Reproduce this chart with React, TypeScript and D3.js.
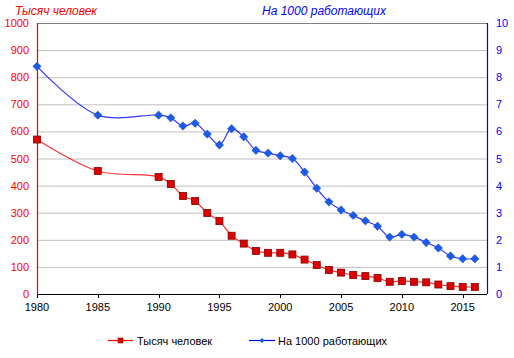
import React from "react";
import * as d3 from "d3";

const years = [1980, 1985, 1990, 1991, 1992, 1993, 1994, 1995, 1996, 1997, 1998, 1999, 2000, 2001, 2002, 2003, 2004, 2005, 2006, 2007, 2008, 2009, 2010, 2011, 2012, 2013, 2014, 2015, 2016];
const thousands = [570, 454, 432, 406, 362, 343, 299, 269, 215, 186, 159, 152, 152, 146, 127, 107, 89, 79, 70, 66, 59, 45, 48, 45, 43, 35, 29, 26, 26];
const perThousand = [8.4, 6.6, 6.6, 6.5, 6.2, 6.3, 5.9, 5.5, 6.1, 5.8, 5.3, 5.2, 5.1, 5.0, 4.5, 3.9, 3.4, 3.1, 2.9, 2.7, 2.5, 2.1, 2.2, 2.1, 1.9, 1.7, 1.4, 1.3, 1.3];
const xTicks = [1980, 1985, 1990, 1995, 2000, 2005, 2010, 2015];
const leftTicks = [0, 100, 200, 300, 400, 500, 600, 700, 800, 900, 1000];
const rightTicks = [0, 1, 2, 3, 4, 5, 6, 7, 8, 9, 10];
const seriesNames = ["Тысяч человек", "На 1000 работающих"];

const FONT = "Arial, 'Liberation Sans', sans-serif";
const RED_LINE = "#ff3333";
const RED_FILL = "#dd0000";
const RED_STROKE = "#880000";
const BLUE_LINE = "#3333ff";
const BLUE_FILL = "#1a5ce6";

export default function App() {
  const W = 514, H = 358;
  const x = d3.scaleLinear().domain([1980, 2017]).range([37, 487]);
  const yL = d3.scaleLinear().domain([0, 1000]).range([294, 23]);
  const yR = d3.scaleLinear().domain([0, 10]).range([294, 23]);

  const redLine = d3.line<number>()
    .x((_, i) => x(years[i]))
    .y((d) => yL(d))
    .curve(d3.curveCatmullRom.alpha(0.5));
  const blueLine = d3.line<number>()
    .x((_, i) => x(years[i]))
    .y((d) => yR(d))
    .curve(d3.curveCatmullRom.alpha(0.5));

  const diamond = (cx: number, cy: number, r: number) =>
    `M${cx},${cy - r}L${cx + r},${cy}L${cx},${cy + r}L${cx - r},${cy}Z`;

  return (
    <svg width={W} height={H} style={{ position: "absolute", left: 0, top: 0, background: "#fff" }} fontFamily={FONT}>
      <rect x={0} y={0} width={W} height={H} fill="#fff" />
      {leftTicks.map((t) => (
        <line key={"g" + t} x1={x(1980)} x2={x(2017)} y1={yL(t) + 0.5} y2={yL(t) + 0.5}
          stroke={t === 1000 ? "#808080" : "#c0c0c0"} strokeWidth={1} />
      ))}
      <line x1={x(1980)} x2={x(2017)} y1={yL(0) + 0.5} y2={yL(0) + 0.5} stroke="#000" strokeWidth={1} />
      <line x1={x(1980) + 0.5} x2={x(1980) + 0.5} y1={yL(1000)} y2={yL(0)} stroke="#ee0000" strokeWidth={1.2} />
      <line x1={x(2017) + 0.5} x2={x(2017) + 0.5} y1={yL(1000)} y2={yL(0)} stroke="#0000dd" strokeWidth={1.2} />
      {xTicks.map((t) => (
        <g key={"x" + t}>
          <line x1={Math.round(x(t)) + 0.5} x2={Math.round(x(t)) + 0.5} y1={yL(0)} y2={yL(0) + 4} stroke="#000" />
          <text x={x(t)} y={311} textAnchor="middle" fontSize={11} fill="#000">{t}</text>
        </g>
      ))}
      {leftTicks.map((t) => (
        <text key={"l" + t} x={29} y={yL(t) + 4} textAnchor="end" fontSize={11} fill="#ff0000">{t}</text>
      ))}
      {rightTicks.map((t) => (
        <text key={"r" + t} x={496} y={yR(t) + 4} textAnchor="start" fontSize={11} fill="#0000ff">{t}</text>
      ))}
      <text x={15} y={15} fontSize={12} fontStyle="italic" fill="#ff0000">{seriesNames[0]}</text>
      <text x={262} y={15} fontSize={12} fontStyle="italic" fill="#0000ff">{seriesNames[1]}</text>
      <path d={redLine(thousands) || ""} fill="none" stroke={RED_LINE} strokeWidth={1.2} />
      <path d={blueLine(perThousand) || ""} fill="none" stroke={BLUE_LINE} strokeWidth={1.2} />
      {thousands.map((v, i) => (
        <rect key={"rm" + i} x={x(years[i]) - 3.5} y={yL(v) - 3.5} width={7} height={7}
          fill={RED_FILL} stroke={RED_STROKE} strokeWidth={0.8} />
      ))}
      {perThousand.map((v, i) => (
        <path key={"bm" + i} d={diamond(x(years[i]), yR(v), 4.2)} fill={BLUE_FILL} stroke="#1a50d0" strokeWidth={0.5} />
      ))}
      <line x1={108} x2={133} y1={340.5} y2={340.5} stroke="#ff0000" strokeWidth={1.2} />
      <rect x={118} y={338} width={5} height={5} fill={RED_FILL} stroke={RED_STROKE} strokeWidth={0.6} />
      <text x={137} y={344.5} fontSize={11} fill="#000">{seriesNames[0]}</text>
      <line x1={249} x2={275} y1={340.5} y2={340.5} stroke="#0000ff" strokeWidth={1.2} />
      <path d={diamond(262, 340.5, 2.5)} fill={BLUE_FILL} />
      <text x={278} y={344.5} fontSize={11} fill="#000">{seriesNames[1]}</text>
    </svg>
  );
}
